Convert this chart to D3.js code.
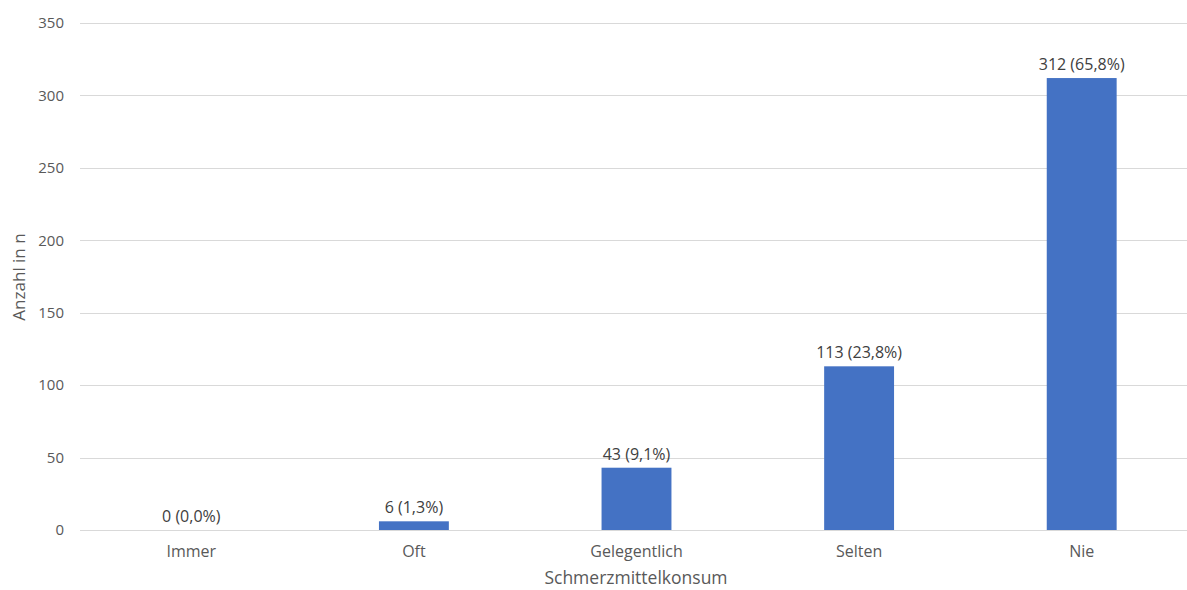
<!DOCTYPE html>
<html>
<head>
<meta charset="utf-8">
<script src="https://cdn.jsdelivr.net/npm/d3@7"></script>
<style>
  html, body { margin: 0; padding: 0; background: #fff; }
  svg { display: block; font-family: "Open Sans", "Noto Sans", sans-serif; }
</style>
</head>
<body>
<svg id="chart" width="1187" height="590"></svg>
<script>
// Schmerzmittelkonsum: Anzahl und Anteil je Kategorie
const categories = ["Immer", "Oft", "Gelegentlich", "Selten", "Nie"];
const counts = [0, 6, 43, 113, 312];
const percentLabels = ["0,0%", "1,3%", "9,1%", "23,8%", "65,8%"];
const yTicks = [0, 50, 100, 150, 200, 250, 300, 350];

const svg = d3.select("#chart");
const margin = { left: 80, right: -6, top: 23, bottom: 60 };
const W = 1187, H = 590;

const x = d3.scaleBand()
  .domain(categories)
  .range([margin.left, W - margin.right])
  .paddingInner(0.686)
  .paddingOuter(0.343);

const y = d3.scaleLinear()
  .domain([0, 350])
  .range([530, margin.top]);

// horizontal gridlines
svg.append("g")
  .selectAll("line")
  .data(yTicks)
  .join("line")
  .attr("x1", margin.left)
  .attr("x2", W - margin.right)
  .attr("y1", d => Math.round(y(d)) + 0.5)
  .attr("y2", d => Math.round(y(d)) + 0.5)
  .attr("stroke", "#d9d9d9")
  .attr("stroke-width", 1);

// y axis tick labels
const yAxis = d3.axisLeft(y).tickValues(yTicks).tickSize(0).tickPadding(0);
const gy = svg.append("g").attr("transform", "translate(64,0)").call(yAxis);
gy.select(".domain").remove();
gy.selectAll("text")
  .attr("fill", "#595959")
  .style("font-size", "15px")
  .style("font-family", "\"Open Sans\", sans-serif");

// x axis category labels
const xAxis = d3.axisBottom(x).tickSize(0).tickPadding(0);
const gx = svg.append("g").attr("transform", "translate(0,546)").call(xAxis);
gx.select(".domain").remove();
gx.selectAll("text")
  .attr("fill", "#595959")
  .style("font-size", "16px")
  .style("font-family", "\"Open Sans\", sans-serif");

// bars
svg.append("g")
  .selectAll("rect")
  .data(counts)
  .join("rect")
  .attr("x", (d, i) => x(categories[i]))
  .attr("width", x.bandwidth())
  .attr("y", d => y(d))
  .attr("height", d => y(0) - y(d))
  .attr("fill", "#4472c4");

// value labels
svg.append("g")
  .selectAll("text")
  .data(counts)
  .join("text")
  .attr("x", (d, i) => x(categories[i]) + x.bandwidth() / 2)
  .attr("y", d => y(d) - 8)
  .attr("text-anchor", "middle")
  .attr("fill", "#404040")
  .style("font-size", "16px")
  .text((d, i) => `${d} (${percentLabels[i]})`);

// axis titles
svg.append("text")
  .attr("x", 636)
  .attr("y", 584)
  .attr("text-anchor", "middle")
  .attr("fill", "#595959")
  .style("font-size", "17.5px")
  .text("Schmerzmittelkonsum");

svg.append("text")
  .attr("transform", "translate(25,277) rotate(-90)")
  .attr("text-anchor", "middle")
  .attr("fill", "#595959")
  .style("font-size", "17px")
  .text("Anzahl in n");
</script>
</body>
</html>
